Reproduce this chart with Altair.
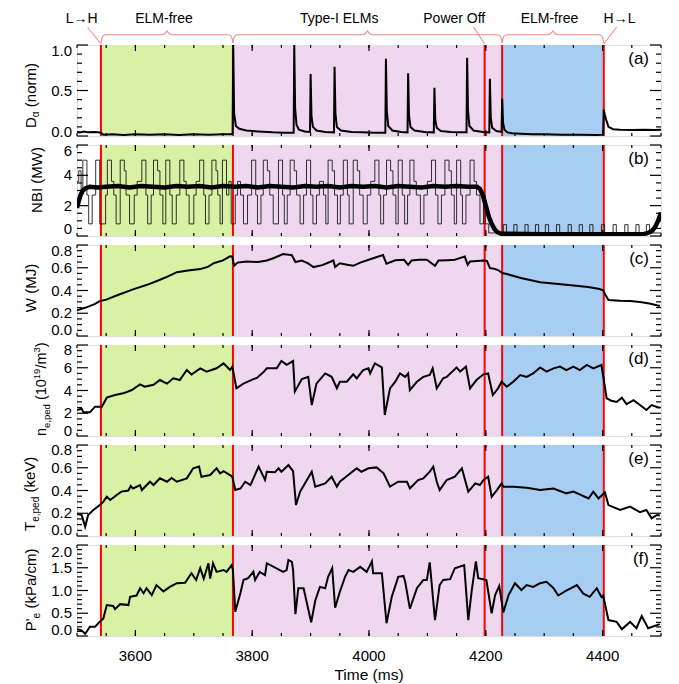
import altair as alt
import pandas as pd

FONT = "Liberation Sans"
W, H = 584, 91
XDOM = [3500, 4500]
BLACK = "#000000"
RED = "#FF0000"
ANN = "#F08C8C"

# ---------------- event times / shaded regions (ms) ----------------
event_t = [3541, 3767, 4198, 4228, 4402]
region_start = [3541, 3767, 4228]
region_end = [3767, 4228, 4402]
region_color = ["#D8F1A4", "#EFD8EF", "#A8CDF2"]

# ---------------- top annotations ----------------
ann_label = ["L\u2192H", "ELM-free", "Type-I ELMs", "Power Off", "ELM-free", "H\u2192L"]
ann_t = [3508, 3649, 3949, 4146, 4309, 4429]
brace_start = [3541, 3767, 4228]
brace_end = [3767, 4228, 4402]
pointer_from = [3518, 4179, 4424]
pointer_to = [3541, 4198, 4402]

# ---------------- x ticks ----------------
x_major = [3600, 3800, 4000, 4200, 4400]
x_labels = ["3600", "3800", "4000", "4200", "4400"]
x_minor = [3500, 3550, 3600, 3650, 3700, 3750, 3800, 3850, 3900, 3950, 4000,
           4050, 4100, 4150, 4200, 4250, 4300, 4350, 4400, 4450, 4500]
x_title = "Time (ms)"

# ---------------- (a) D_alpha ----------------
dalpha = [(3500, .045), (3505, .04), (3512, .05), (3520, .04), (3528, .045), (3536, .04),
          (3541, .035), (3545, .015), (3560, .02), (3580, .012), (3600, .018), (3625, .015),
          (3650, .02), (3675, .012), (3700, .018), (3725, .015), (3750, .02), (3765, .02),
          (3766.5, .03), (3767.5, 1.0), (3769, .25), (3772, .11), (3778, .08), (3790, .06),
          (3810, .05), (3835, .04), (3855, .035), (3871, .035), (3872, 1.0), (3873.5, .3),
          (3876, .12), (3880, .07), (3890, .05), (3899, .045), (3900, .68), (3901.5, .22),
          (3904, .1), (3910, .06), (3925, .045), (3940, .04), (3941, .76), (3942.5, .25),
          (3945, .1), (3952, .06), (3970, .045), (3990, .04), (4010, .035), (4028, .035),
          (4029, .85), (4030.5, .28), (4033, .11), (4040, .06), (4055, .045), (4066, .04),
          (4067, .69), (4068.5, .23), (4071, .1), (4078, .06), (4095, .045), (4111, .04),
          (4112, .53), (4113.5, .18), (4116, .09), (4123, .055), (4140, .045), (4155, .04),
          (4167, .04), (4168, .86), (4169.5, .28), (4172, .11), (4179, .06), (4195, .045),
          (4206, .04), (4207, .63), (4208.5, .2), (4211, .09), (4218, .055), (4227, .045),
          (4228, .41), (4229.5, .15), (4232, .07), (4237, .04), (4245, .03), (4260, .025),
          (4280, .02), (4300, .018), (4330, .015), (4360, .015), (4390, .012), (4401, .015),
          (4402, .29), (4403.5, .24), (4406, .18), (4410, .1), (4418, .075), (4430, .07),
          (4450, .065), (4470, .07), (4490, .065), (4500, .07)]

# ---------------- (b) NBI ----------------
nbi_steps = [(3500, 3.6), (3503, 4.3), (3507, 2.7), (3510, 5.0), (3517, 2.7), (3520, 0.8),
             (3526, 2.7), (3532, 5.0), (3539, 0.8), (3549, 2.7), (3552, 5.0), (3559, 3.6),
             (3563, 2.7), (3567, 0.8), (3574, 5.0), (3581, 4.3), (3584, 2.7), (3590, 0.8),
             (3598, 2.7), (3603, 3.6), (3611, 5.0), (3618, 2.7), (3621, 0.8), (3627, 2.7),
             (3631, 5.0), (3638, 4.3), (3642, 2.7), (3647, 0.8), (3652, 5.0), (3659, 2.7),
             (3663, 0.8), (3670, 2.7), (3676, 5.0), (3683, 3.6), (3687, 2.7), (3692, 0.8),
             (3700, 2.7), (3704, 3.6), (3710, 5.0), (3717, 2.7), (3720, 0.8), (3726, 2.7),
             (3731, 5.0), (3738, 4.3), (3741, 2.7), (3745, 0.8), (3749, 5.0), (3756, 2.7),
             (3760, 3.6), (3764, 0.8), (3771, 2.7), (3775, 3.6), (3780, 2.7), (3785, 0.8),
             (3792, 2.7), (3799, 5.0), (3806, 2.7), (3809, 0.8), (3815, 2.7), (3819, 5.0),
             (3826, 4.3), (3830, 2.7), (3836, 0.8), (3845, 5.0), (3852, 2.7), (3855, 0.8),
             (3860, 2.7), (3865, 5.0), (3872, 4.3), (3876, 2.7), (3882, 0.8), (3888, 2.7),
             (3893, 5.0), (3900, 2.7), (3904, 0.8), (3910, 2.7), (3915, 3.6), (3922, 2.7),
             (3926, 0.8), (3930, 5.0), (3937, 4.3), (3941, 2.7), (3946, 0.8), (3951, 2.7),
             (3956, 5.0), (3963, 2.7), (3966, 0.8), (3973, 5.0), (3980, 4.3), (3984, 2.7),
             (3990, 0.8), (3997, 2.7), (4003, 3.6), (4010, 5.0), (4017, 2.7), (4020, 0.8),
             (4025, 2.7), (4030, 5.0), (4037, 4.3), (4041, 2.7), (4046, 0.8), (4050, 5.0),
             (4057, 2.7), (4061, 0.8), (4066, 2.7), (4070, 5.0), (4077, 3.6), (4081, 2.7),
             (4088, 0.8), (4094, 2.7), (4100, 3.6), (4107, 5.0), (4114, 2.7), (4118, 0.8),
             (4124, 2.7), (4130, 5.0), (4137, 4.3), (4141, 2.7), (4146, 0.8), (4150, 5.0),
             (4157, 2.7), (4160, 0.8), (4166, 2.7), (4173, 5.0), (4180, 3.6), (4184, 2.7),
             (4190, 0.8), (4196, 2.7), (4199, 0.8), (4205, 0.2),
             (4230, .75), (4235.5, .2), (4248, .75), (4253.5, .2), (4267, .75), (4272.5, .2),
             (4285, .75), (4290.5, .2), (4302, .75), (4307.5, .2), (4321, .75), (4326.5, .2),
             (4341, .75), (4346.5, .2), (4360, .75), (4365.5, .2), (4378, .75), (4383.5, .2),
             (4398, .75), (4403.5, .2), (4418, .75), (4423.5, .2), (4438, .75), (4443.5, .2),
             (4457, .75), (4462.5, .2), (4475, .75), (4480.5, .2), (4500, .2)]
nbi_avg = [(3500, 1.85), (3503, 2.3), (3506, 2.7), (3510, 3.0), (3515, 3.15), (3522, 3.25),
           (3535, 3.2), (3550, 3.25), (3570, 3.3), (3590, 3.2), (3610, 3.3), (3630, 3.25),
           (3650, 3.2), (3670, 3.3), (3690, 3.25), (3710, 3.3), (3730, 3.2), (3750, 3.3),
           (3770, 3.25), (3790, 3.3), (3810, 3.2), (3830, 3.3), (3850, 3.25), (3870, 3.2),
           (3890, 3.3), (3910, 3.25), (3930, 3.3), (3950, 3.2), (3970, 3.3), (3990, 3.25),
           (4010, 3.3), (4030, 3.2), (4050, 3.3), (4070, 3.25), (4090, 3.2), (4110, 3.3),
           (4130, 3.25), (4150, 3.3), (4170, 3.25), (4185, 3.25), (4190, 3.1), (4195, 2.7),
           (4200, 2.0), (4205, 1.3), (4210, 0.8), (4215, 0.45), (4220, 0.25), (4226, 0.15),
           (4300, 0.12), (4400, 0.12), (4470, 0.12), (4478, 0.2), (4485, 0.35), (4490, 0.6),
           (4495, 1.0), (4500, 1.55)]

# ---------------- (c) stored energy W ----------------
wmhd = [(3500, .226), (3515, .25), (3530, .28), (3539, .307), (3550, .32), (3570, .36),
        (3596, .41), (3620, .45), (3640, .49), (3654, .52), (3671, .561), (3690, .575),
        (3711, .588), (3725, .61), (3734, .64), (3750, .665), (3762, .70), (3766, .698),
        (3769, .617), (3775, .645), (3790, .655), (3810, .65), (3825, .664), (3836, .684),
        (3853, .72), (3868, .71), (3874, .65), (3885, .664), (3895, .64), (3905, .606),
        (3920, .623), (3935, .655), (3939, .664), (3942, .606), (3950, .64), (3965, .625),
        (3973, .617), (3985, .645), (4007, .684), (4024, .712), (4030, .635), (4045, .665),
        (4060, .67), (4067, .626), (4073, .664), (4085, .67), (4099, .67), (4113, .617),
        (4119, .664), (4135, .667), (4147, .67), (4164, .698), (4169, .626), (4173, .655),
        (4185, .66), (4196, .664), (4202, .66), (4207, .597), (4215, .59), (4221, .58),
        (4228, .553), (4236, .545), (4260, .51), (4293, .472), (4320, .46), (4350, .443),
        (4375, .43), (4395, .414), (4401, .40), (4405, .36), (4410, .316), (4430, .31),
        (4447, .307), (4464, .299), (4480, .285), (4498, .263)]

# ---------------- (d) n_e,ped ----------------
ne_ped = [(3500, 2.29), (3508, 2.4), (3511, 2.08), (3522, 2.08), (3531, 2.58), (3539, 2.58),
          (3542, 2.52), (3551, 3.37), (3565, 3.6), (3579, 3.75), (3594, 4.04), (3602, 4.33),
          (3608, 4.54), (3616, 4.33), (3631, 4.5), (3642, 4.92), (3654, 4.6), (3665, 5.07),
          (3676, 4.92), (3688, 5.8), (3696, 5.4), (3711, 5.95), (3722, 5.66), (3739, 5.95),
          (3751, 6.39), (3762, 5.8), (3766, 6.1), (3773, 4.19), (3785, 4.6), (3802, 5.0),
          (3808, 5.1), (3819, 5.6), (3825, 5.95), (3842, 5.95), (3850, 6.59), (3859, 6.25),
          (3870, 6.59), (3873, 3.9), (3885, 5.0), (3896, 5.2), (3902, 2.72), (3910, 4.6),
          (3925, 5.5), (3936, 5.2), (3945, 4.2), (3950, 4.77), (3962, 4.77), (3973, 5.42),
          (3979, 5.07), (3990, 5.8), (3999, 5.95), (4002, 5.5), (4010, 6.39), (4022, 6.03),
          (4027, 1.85), (4036, 4.19), (4045, 4.77), (4053, 5.5), (4062, 5.2), (4067, 5.5),
          (4070, 4.04), (4082, 4.77), (4093, 5.2), (4104, 5.36), (4109, 5.95), (4116, 4.19),
          (4127, 5.07), (4133, 5.2), (4150, 6.03), (4156, 5.66), (4166, 6.1), (4173, 4.19),
          (4184, 4.92), (4196, 5.42), (4204, 5.5), (4212, 3.6), (4221, 4.19), (4227, 4.77),
          (4236, 4.33), (4247, 4.77), (4259, 5.36), (4270, 5.2), (4281, 5.5), (4293, 6.03),
          (4304, 5.66), (4316, 5.95), (4327, 6.1), (4338, 5.8), (4350, 6.1), (4361, 5.8),
          (4373, 6.25), (4384, 5.95), (4398, 6.24), (4407, 3.31), (4415, 3.1), (4424, 2.99),
          (4433, 3.37), (4441, 2.8), (4453, 3.15), (4464, 2.72), (4475, 2.29), (4484, 2.72),
          (4493, 2.55), (4498, 2.49)]

# ---------------- (e) T_e,ped ----------------
te_ped = [(3500, .193), (3508, .185), (3514, .082), (3519, .185), (3528, .229), (3539, .272),
          (3545, .30), (3551, .345), (3557, .316), (3568, .36), (3576, .39), (3588, .40),
          (3592, .44), (3596, .418), (3608, .448), (3611, .404), (3625, .477), (3631, .448),
          (3642, .507), (3654, .477), (3662, .51), (3671, .477), (3688, .507), (3699, .595),
          (3709, .61), (3713, .52), (3728, .536), (3739, .595), (3745, .551), (3751, .57),
          (3762, .536), (3766, .52), (3771, .404), (3780, .418), (3788, .477), (3797, .448),
          (3811, .61), (3822, .492), (3825, .565), (3839, .56), (3845, .595), (3850, .565),
          (3862, .624), (3870, .57), (3875, .272), (3882, .39), (3902, .565), (3908, .434),
          (3925, .463), (3936, .521), (3945, .434), (3950, .477), (3979, .595), (3987, .565),
          (3999, .595), (4013, .603), (4025, .551), (4036, .434), (4050, .477), (4065, .477),
          (4070, .418), (4084, .492), (4093, .507), (4104, .565), (4110, .61), (4116, .477),
          (4121, .404), (4133, .492), (4147, .521), (4159, .595), (4170, .39), (4182, .463),
          (4190, .448), (4196, .492), (4204, .521), (4210, .345), (4219, .404), (4227, .463),
          (4230, .434), (4247, .434), (4270, .425), (4293, .404), (4316, .418), (4338, .375),
          (4350, .39), (4376, .33), (4384, .39), (4393, .33), (4404, .383), (4410, .272),
          (4430, .229), (4447, .258), (4464, .209), (4475, .229), (4484, .156), (4493, .185),
          (4498, .18)]

# ---------------- (f) P'_e ----------------
pe_grad = [(3500, .147), (3508, .125), (3514, .044), (3522, .205), (3531, .205), (3539, .315),
           (3545, .38), (3551, .68), (3562, .66), (3565, .59), (3574, .70), (3588, .68),
           (3591, .86), (3602, .89), (3608, 1.05), (3614, .94), (3619, 1.05), (3628, .90),
           (3636, 1.12), (3648, .98), (3659, 1.08), (3671, 1.16), (3685, 1.17), (3696, 1.38),
           (3704, 1.23), (3711, 1.49), (3717, 1.26), (3725, 1.6), (3728, 1.26), (3733, 1.6),
           (3739, 1.41), (3751, 1.45), (3756, 1.41), (3765, 1.56), (3767, 1.45), (3771, .535),
           (3780, .95), (3785, 1.23), (3793, 1.27), (3802, 1.41), (3805, 1.23), (3813, 1.41),
           (3822, 1.34), (3825, 1.6), (3853, 1.41), (3859, 1.45), (3862, 1.67), (3868, 1.63),
           (3870, 1.45), (3874, .48), (3879, 1.05), (3888, 1.05), (3901, .30), (3908, .78),
           (3916, 1.08), (3925, 1.05), (3930, 1.3), (3937, 1.49), (3942, .62), (3950, .97),
           (3959, 1.3), (3965, 1.45), (3973, 1.41), (3985, 1.52), (3996, 1.41), (4005, 1.64),
           (4007, 1.38), (4022, 1.38), (4030, .28), (4039, .86), (4050, 1.3), (4059, 1.32),
           (4062, 1.19), (4070, .60), (4082, 1.05), (4093, 1.23), (4099, 1.23), (4104, 1.62),
           (4113, .35), (4121, 1.12), (4127, 1.23), (4139, 1.25), (4147, 1.49), (4163, 1.56),
           (4170, .35), (4176, 1.01), (4183, 1.64), (4187, 1.27), (4201, 1.23), (4210, .50),
           (4216, .90), (4223, 1.1), (4230, .52), (4239, .90), (4250, 1.16), (4261, 1.01),
           (4270, 1.12), (4281, 1.08), (4293, 1.16), (4304, 1.19), (4316, 1.05), (4324, .89),
           (4338, 1.0), (4356, 1.12), (4367, .93), (4378, .86), (4390, 1.05), (4398, .86),
           (4401, .89), (4410, .35), (4424, .31), (4433, .15), (4447, .31), (4458, .17),
           (4467, .44), (4478, .17), (4498, .26)]

# ---------------- y-axis ticks / labels per panel ----------------
a_major = [0, 0.5, 1.0]
a_labels = ["0.0", "0.5", "1.0"]
a_minor = [0.1, 0.2, 0.3, 0.4, 0.6, 0.7, 0.8, 0.9]
b_major = [0, 2, 4, 6]
b_labels = ["0", "2", "4", "6"]
b_minor = [0.5, 1, 1.5, 2.5, 3, 3.5, 4.5, 5, 5.5]
c_major = [0, 0.2, 0.4, 0.6, 0.8]
c_labels = ["0.0", "0.2", "0.4", "0.6", "0.8"]
c_minor = [0.05, 0.1, 0.15, 0.25, 0.3, 0.35, 0.45, 0.5, 0.55, 0.65, 0.7, 0.75]
d_major = [0, 2, 4, 6, 8]
d_labels = ["0", "2", "4", "6", "8"]
d_minor = [0.5, 1, 1.5, 2.5, 3, 3.5, 4.5, 5, 5.5, 6.5, 7, 7.5]
e_major = [0, 0.2, 0.4, 0.6, 0.8]
e_labels = ["0.0", "0.2", "0.4", "0.6", "0.8"]
e_minor = [0.05, 0.1, 0.15, 0.25, 0.3, 0.35, 0.45, 0.5, 0.55, 0.65, 0.7, 0.75]
f_major = [0, 0.5, 1.0, 1.5, 2.0]
f_labels = ["0.0", "0.5", "1.0", "1.5", "2.0"]
f_minor = [0.1, 0.2, 0.3, 0.4, 0.6, 0.7, 0.8, 0.9, 1.1, 1.2, 1.3, 1.4, 1.6, 1.7, 1.8, 1.9]

# =====================================================================
xs = alt.Scale(domain=XDOM, nice=False, zero=False)


def XF(field):
    return alt.X(f"{field}:Q", scale=xs, axis=None)


region_df = pd.DataFrame({"s": region_start, "e": region_end, "c": region_color})
event_df = pd.DataFrame({"t": event_t})


def text_piece(text, fs, px, py, align="left", angle=270, baseline="alphabetic"):
    return alt.Chart(pd.DataFrame({"s": [text]})).mark_text(
        angle=angle, fontSize=fs, align=align, baseline=baseline, color=BLACK, font=FONT
    ).encode(text="s:N", x=alt.value(px), y=alt.value(py))


def rule(df, ys, **enc):
    return alt.Chart(df).mark_rule(color=BLACK, strokeWidth=1.2).encode(**enc)


def panel(series, ydom, ymaj, ylab, ymin, top_off, bot_off, letter, title_pieces,
          xaxis=False):
    ys = alt.Scale(domain=ydom, nice=False, zero=False)

    def YF(field):
        return alt.Y(f"{field}:Q", scale=ys, axis=None)

    layers = []
    layers.append(alt.Chart(region_df).mark_rect().encode(
        x=XF("s"), x2="e:Q", y=alt.value(0), y2=alt.value(H),
        color=alt.Color("c:N", scale=None)))
    layers.append(alt.Chart(event_df).mark_rule(color=RED, strokeWidth=2).encode(x=XF("t")))
    for data, style in series:
        df = pd.DataFrame(data, columns=["t", "v"])
        layers.append(alt.Chart(df).mark_line(clip=True, **style).encode(
            x=XF("t"), y=YF("v")))
    dmaj = pd.DataFrame({"v": ymaj, "lab": ylab})
    dmin = pd.DataFrame({"v": ymin})
    layers.append(rule(dmaj, ys, y=YF("v"), x=alt.value(0), x2=alt.value(11)))
    layers.append(rule(dmaj, ys, y=YF("v"), x=alt.value(W - 11), x2=alt.value(W)))
    layers.append(rule(dmin, ys, y=YF("v"), x=alt.value(0), x2=alt.value(5)))
    layers.append(rule(dmin, ys, y=YF("v"), x=alt.value(W - 5), x2=alt.value(W)))
    # y tick labels (end labels pulled inside, as in the original)
    n = len(ymaj)
    for sub, dy in [(dmaj.iloc[1:n - 1], 0), (dmaj.iloc[[n - 1]], top_off),
                    (dmaj.iloc[[0]], bot_off)]:
        layers.append(alt.Chart(sub).mark_text(
            align="right", baseline="middle", fontSize=15, font=FONT, color=BLACK, dy=dy
        ).encode(y=YF("v"), x=alt.value(-5), text="lab:N"))
    # x ticks top / bottom
    xmaj_df = pd.DataFrame({"t": x_major, "lab": x_labels})
    xmin_df = pd.DataFrame({"t": x_minor})
    layers.append(rule(xmaj_df, ys, x=XF("t"), y=alt.value(H), y2=alt.value(H - 6)))
    layers.append(rule(xmaj_df, ys, x=XF("t"), y=alt.value(0), y2=alt.value(6)))
    layers.append(rule(xmin_df, ys, x=XF("t"), y=alt.value(H), y2=alt.value(H - 3)))
    layers.append(rule(xmin_df, ys, x=XF("t"), y=alt.value(0), y2=alt.value(3)))
    if xaxis:
        layers.append(alt.Chart(xmaj_df).mark_text(
            align="center", baseline="middle", fontSize=15, font=FONT, color=BLACK
        ).encode(x=XF("t"), y=alt.value(H + 20), text="lab:N"))
        layers.append(text_piece(x_title, 15.5, W / 2, H + 39, align="center", angle=0,
                                 baseline="middle"))
    # panel letter
    layers.append(text_piece(letter, 17, 572, 14, align="right", angle=0, baseline="middle"))
    # y title pieces (rotated)
    for p in title_pieces:
        layers.append(text_piece(*p))
    return alt.layer(*layers).properties(width=W, height=H)


LINE = {"color": BLACK, "strokeWidth": 2}

pa = panel([(dalpha, LINE)], [0, 1], a_major, a_labels, a_minor, 6, -4, "(a)",
           [("D", 15, -41, 83), ("\u03b1", 10, -38, 72.2), ("(norm)", 15, -41, 62.2)])
pb = panel([(nbi_steps, {"color": "#1a1a1a", "strokeWidth": 0.9, "interpolate": "step-after"}),
            (nbi_avg, {"color": BLACK, "strokeWidth": 4.5})],
           [0, 6], b_major, b_labels, b_minor, 6, -7, "(b)",
           [("NBI (MW)", 15, -35, 35, "center")])
pc = panel([(wmhd, LINE)], [0, 0.8], c_major, c_labels, c_minor, 6, -6, "(c)",
           [("W (MJ)", 15, -41, 43, "center")])
pd_ = panel([(ne_ped, LINE)], [0, 8], d_major, d_labels, d_minor, 5, -5, "(d)",
            [("n", 14.5, -31, 91), ("e,ped", 9.5, -27, 82.9), ("(10", 14.5, -31, 55.1),
             ("19", 9.5, -37, 34.2), ("/m", 14.5, -31, 23.6), ("3", 9.5, -37, 7.5),
             (")", 14.5, -31, 2.2)])
pe = panel([(te_ped, LINE)], [0, 0.8], e_major, e_labels, e_minor, 5, -6, "(e)",
           [("T", 15, -42, 86), ("e,ped", 10, -38, 76.8), ("(keV)", 15, -42, 47.6)])
pf = panel([(pe_grad, LINE)], [0, 2], f_major, f_labels, f_minor, 7, -6, "(f)",
           [("P'", 15, -41, 86.3), ("e", 10, -37, 73.4), ("(kPa/cm)", 15, -41, 63.6)],
           xaxis=True)

# ---------------- annotation strip ----------------
brace_rows = []
for i, (a, b) in enumerate(zip(brace_start, brace_end)):
    m = (a + b) / 2
    ts = [a, a + 1.7, a + 4, a + 8.5, m - 8.5, m - 4, m - 1.5, m,
          m + 1.5, m + 4, m + 8.5, b - 8.5, b - 4, b - 1.7, b]
    yv = [43, 38, 35.6, 34.7, 34.7, 33.8, 32, 30.7, 32, 33.8, 34.7, 34.7, 35.6, 38, 43]
    for k, (tt, yy) in enumerate(zip(ts, yv)):
        brace_rows.append({"g": f"b{i}", "o": k, "t": tt, "y": yy})
for i, (t0, t1) in enumerate(zip(pointer_from, pointer_to)):
    brace_rows.append({"g": f"p{i}", "o": 0, "t": t0, "y": 27})
    brace_rows.append({"g": f"p{i}", "o": 1, "t": t1, "y": 44})
ann_lines_df = pd.DataFrame(brace_rows)

ann_y = alt.Scale(domain=[0, 36], reverse=True, nice=False, zero=False)
ann_lines = alt.Chart(ann_lines_df).mark_line(color=ANN, strokeWidth=1.1,
                                              interpolate="monotone").encode(
    x=XF("t"), y=alt.Y("y:Q", scale=ann_y, axis=None), detail="g:N", order="o:Q")
ann_text = alt.Chart(pd.DataFrame({"t": ann_t, "s": ann_label})).mark_text(
    fontSize=14, font=FONT, color=BLACK, baseline="alphabetic", align="center").encode(
    x=XF("t"), y=alt.value(23), text="s:N")
anchor = alt.Chart(pd.DataFrame({"a": [0]})).mark_rule(opacity=0, strokeWidth=0.5).encode(
    x=alt.value(-77), x2=alt.value(-77), y=alt.value(0), y2=alt.value(1))
annot = alt.layer(ann_lines, ann_text, anchor).properties(
    width=W, height=36, view=alt.ViewBackground(stroke="transparent", strokeWidth=0))

chart = alt.vconcat(annot, pa, pb, pc, pd_, pe, pf, spacing=9, bounds="flush").properties(
    padding=0
).configure_view(stroke=BLACK, strokeWidth=1.5).configure(font=FONT)

chart.save("out.html", embed_options={"renderer": "svg", "actions": False})
